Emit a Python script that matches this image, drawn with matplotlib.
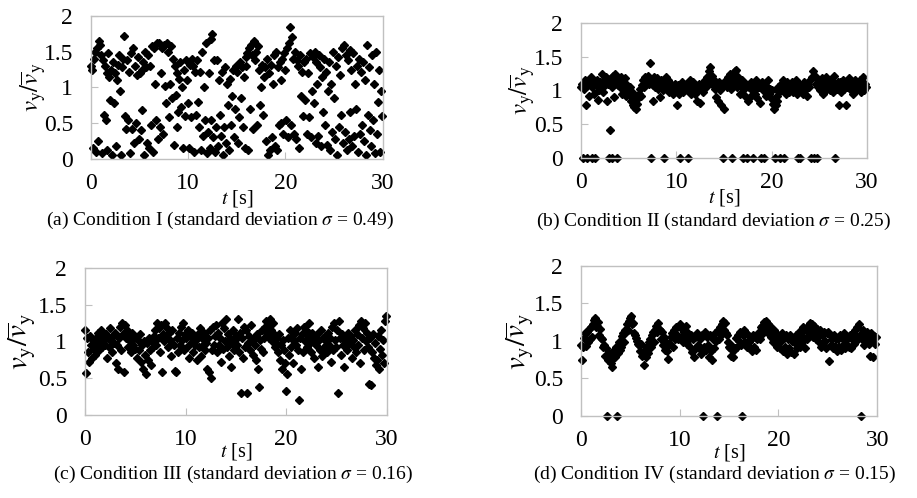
import numpy as np
import matplotlib
matplotlib.use("Agg")
import matplotlib.pyplot as plt

plt.rcParams["font.family"] = ["Liberation Serif", "DejaVu Serif"]
plt.rcParams["mathtext.fontset"] = "stix"

# sampling interval of the recorded series [s]
DT = 0.1

# (a) Condition I
vel_a = [
    1.30, 1.25, 0.15, 1.40, 1.50, 0.10, 1.55, 0.25, 1.65, 1.60,
    1.45, 0.08, 1.38, 0.62, 1.30, 0.55, 1.20, 0.12, 1.48, 1.15,
    0.82, 1.25, 0.05, 1.35, 0.78, 1.20, 0.18, 1.10, 1.32, 1.45,
    0.95, 0.05, 1.28, 1.40, 1.72, 0.60, 0.42, 1.38, 0.55, 1.22,
    0.08, 1.48, 0.42, 1.55, 0.22, 1.30, 0.50, 1.18, 1.42, 0.28,
    1.20, 0.40, 1.25, 0.68, 1.35, 0.05, 1.50, 1.28, 0.22, 1.45,
    0.15, 1.30, 0.48, 1.58, 0.10, 1.55, 1.05, 0.55, 1.62, 0.28,
    1.62, 0.45, 1.20, 1.55, 0.35, 1.60, 1.02, 0.78, 1.62, 1.50,
    0.58, 1.05, 1.58, 0.85, 1.40, 0.20, 1.30, 0.90, 0.45, 1.20,
    0.65, 1.12, 1.35, 0.72, 1.00, 0.15, 1.25, 0.60, 1.38, 1.10,
    0.78, 0.15, 1.32, 0.58, 1.40, 1.30, 0.10, 1.22, 0.62, 1.38,
    0.80, 0.45, 1.22, 0.12, 1.50, 0.32, 1.00, 0.55, 1.62, 0.08,
    0.38, 1.20, 0.15, 1.68, 0.55, 1.75, 0.30, 1.38, 0.10, 0.45,
    1.38, 0.18, 1.10, 0.62, 0.32, 1.22, 0.05, 0.45, 1.28, 0.22,
    1.05, 0.75, 0.12, 1.12, 0.48, 0.88, 1.25, 0.30, 0.70, 1.30,
    1.22, 0.22, 0.58, 1.35, 0.85, 1.28, 0.45, 1.15, 0.15, 1.42,
    1.30, 1.48, 0.12, 1.55, 0.70, 1.60, 1.45, 0.42, 1.65, 1.38,
    1.50, 0.48, 1.58, 1.25, 0.75, 1.00, 1.32, 0.62, 1.15, 1.28,
    0.25, 1.40, 0.05, 1.20, 0.12, 1.32, 0.30, 1.05, 1.45, 0.18,
    1.50, 0.12, 1.28, 0.48, 1.35, 1.10, 0.50, 1.40, 0.35, 1.48,
    1.25, 0.55, 1.55, 0.30, 1.62, 1.85, 0.48, 1.70, 1.40, 0.35,
    1.50, 0.28, 1.38, 1.30, 0.15, 1.45, 0.88, 1.22, 0.60, 1.35,
    0.82, 1.40, 0.35, 1.20, 0.58, 1.48, 0.30, 0.95, 1.42, 0.78,
    1.50, 0.22, 1.35, 1.05, 0.32, 1.45, 1.28, 0.18, 1.15, 0.65,
    1.40, 0.48, 1.22, 0.20, 0.95, 1.35, 0.12, 1.05, 0.38, 1.50,
    0.85, 0.28, 1.30, 0.05, 1.42, 0.45, 1.18, 0.62, 1.55, 0.22,
    1.60, 0.38, 1.45, 0.12, 1.38, 0.28, 1.52, 0.65, 1.25, 0.18,
    1.48, 0.32, 1.05, 0.70, 1.30, 0.10, 1.40, 0.35, 1.22, 0.48,
    1.35, 0.25, 1.10, 0.05, 1.60, 0.62, 1.28, 0.40, 0.18, 1.45,
    0.55, 1.05, 0.08, 1.50, 0.35, 0.80, 1.25, 0.10, 0.95, 0.60,
]

# (b) Condition II
vel_b = [
    1.05, 1.10, 0.00, 1.02, 1.15, 0.78, 0.00, 1.08, 0.92, 1.12,
    1.20, 0.00, 1.05, 1.10, 0.95, 0.00, 1.08, 1.15, 0.86, 1.00,
    1.12, 1.05, 1.25, 0.98, 1.15, 1.08, 1.20, 0.85, 1.10, 0.00,
    0.42, 1.18, 0.00, 1.05, 1.22, 0.90, 1.25, 1.12, 0.00, 1.08,
    1.15, 1.05, 1.20, 0.95, 1.10, 1.02, 1.18, 0.92, 1.08, 1.00,
    0.95, 1.05, 0.85, 0.98, 0.78, 0.90, 0.75, 0.85, 0.72, 0.80,
    0.88, 0.95, 1.02, 0.92, 1.08, 1.15, 1.05, 1.20, 1.12, 1.18,
    1.22, 1.10, 1.40, 0.00, 1.15, 1.08, 0.85, 1.20, 1.05, 1.12,
    1.18, 1.02, 1.10, 0.90, 1.15, 1.08, 1.00, 0.00, 1.12, 1.20,
    1.05, 1.15, 0.98, 1.10, 1.02, 1.08, 0.95, 1.05, 1.00, 1.10,
    1.02, 0.78, 1.08, 0.95, 0.00, 1.05, 1.12, 0.98, 1.06, 1.00,
    1.10, 1.02, 0.00, 1.08, 1.15, 0.95, 1.05, 1.12, 1.00, 1.08,
    0.95, 1.05, 0.85, 1.00, 1.10, 0.82, 1.02, 1.08, 0.98, 1.12,
    1.15, 1.05, 1.20, 1.10, 1.28, 1.35, 1.18, 1.22, 1.08, 1.15,
    1.10, 1.02, 0.90, 1.08, 0.85, 1.12, 1.00, 0.78, 1.05, 0.00,
    0.72, 1.08, 1.15, 1.05, 1.20, 1.12, 1.25, 1.02, 0.00, 1.18,
    1.10, 1.28, 1.15, 1.30, 1.05, 1.20, 1.12, 0.95, 1.08, 1.15,
    0.00, 1.02, 0.92, 1.10, 0.00, 0.85, 1.05, 0.90, 1.12, 1.00,
    0.00, 1.08, 0.95, 1.15, 1.02, 0.88, 1.10, 1.05, 0.82, 0.00,
    1.12, 1.00, 0.00, 1.08, 0.92, 1.05, 1.15, 0.95, 1.02, 0.88,
    1.00, 0.80, 0.72, 0.00, 0.78, 0.85, 0.92, 1.05, 0.98, 0.00,
    1.10, 1.02, 1.15, 0.00, 1.08, 0.95, 1.12, 1.05, 0.98, 1.10,
    1.05, 1.12, 0.98, 1.08, 1.02, 1.15, 0.95, 1.05, 0.00, 1.10,
    0.00, 1.02, 1.08, 0.95, 1.12, 1.00, 1.05, 0.92, 1.10, 1.05,
    1.15, 0.00, 1.20, 1.28, 0.00, 1.22, 1.10, 0.00, 1.15, 1.05,
    1.12, 1.00, 1.08, 1.18, 0.95, 1.10, 1.05, 1.20, 1.02, 1.12,
    1.08, 1.00, 1.15, 1.05, 0.98, 1.22, 0.00, 1.10, 1.02, 1.12,
    0.78, 1.05, 1.12, 0.98, 1.08, 1.15, 1.02, 1.10, 0.78, 1.05,
    1.10, 1.18, 1.02, 1.12, 1.05, 0.95, 1.08, 1.15, 1.00, 1.10,
    1.02, 1.12, 1.05, 1.15, 0.98, 1.08, 1.20, 1.00, 1.10, 1.05,
]

# (c) Condition III
vel_c = [
    1.15, 0.57, 1.05, 0.85, 0.72, 1.08, 0.95, 0.78, 1.02, 0.90,
    0.82, 1.05, 0.95, 1.12, 0.88, 1.00, 1.15, 0.92, 1.08, 1.02,
    0.95, 1.10, 0.78, 1.05, 0.92, 1.18, 1.00, 0.85, 1.08, 0.98,
    1.12, 0.70, 0.95, 0.62, 1.05, 1.20, 0.88, 1.25, 1.10, 0.58,
    1.22, 1.05, 1.15, 0.92, 1.08, 1.00, 0.85, 1.12, 0.95, 1.05,
    0.90, 1.05, 0.78, 1.02, 0.88, 1.10, 0.72, 0.95, 0.62, 1.00,
    0.82, 0.55, 0.98, 0.75, 1.05, 0.88, 0.68, 1.00, 0.92, 1.08,
    1.15, 0.95, 1.25, 1.05, 1.18, 0.85, 1.22, 0.58, 1.10, 1.00,
    1.25, 1.08, 1.18, 0.92, 1.12, 1.02, 0.80, 1.15, 0.95, 0.60,
    0.58, 1.05, 0.85, 1.12, 0.95, 1.20, 1.02, 1.25, 0.88, 1.10,
    1.05, 0.92, 1.15, 0.78, 1.08, 0.98, 1.12, 0.85, 1.05, 0.95,
    1.02, 0.75, 1.10, 0.92, 1.18, 0.80, 1.05, 0.95, 1.12, 0.88,
    0.98, 0.62, 1.05, 0.58, 1.15, 0.50, 0.88, 1.20, 0.95, 1.08,
    1.22, 0.85, 1.12, 0.95, 1.05, 0.72, 1.25, 0.90, 1.18, 1.00,
    1.30, 0.92, 1.10, 0.80, 1.05, 0.65, 0.98, 1.15, 0.88, 1.02,
    1.08, 0.95, 1.30, 0.85, 1.12, 0.30, 1.05, 0.78, 1.20, 0.92,
    1.15, 0.30, 0.98, 1.08, 0.88, 1.22, 1.00, 0.82, 1.05, 0.95,
    0.75, 1.10, 0.62, 0.38, 1.02, 0.90, 1.15, 0.85, 1.05, 1.20,
    1.28, 1.12, 1.22, 1.05, 1.30, 1.15, 1.00, 1.25, 1.10, 0.92,
    0.98, 1.05, 0.85, 1.10, 0.75, 0.95, 0.62, 1.02, 0.88, 0.70,
    0.33, 0.55, 1.05, 0.82, 1.15, 0.92, 1.08, 0.70, 1.00, 1.12,
    0.95, 1.18, 0.88, 0.20, 1.05, 0.62, 1.10, 0.85, 1.20, 1.00,
    1.15, 0.92, 1.08, 1.25, 0.98, 0.85, 1.12, 1.02, 0.78, 1.05,
    0.95, 1.10, 0.65, 1.02, 0.88, 1.15, 0.80, 1.05, 0.92, 1.08,
    1.00, 0.85, 1.12, 0.95, 1.05, 0.72, 1.20, 0.88, 1.25, 1.02,
    0.92, 1.15, 0.30, 1.28, 1.05, 0.82, 1.10, 0.95, 0.65, 1.00,
    1.05, 0.88, 1.12, 0.98, 1.08, 0.78, 1.02, 0.92, 1.15, 0.85,
    1.10, 0.95, 1.22, 0.70, 1.28, 1.05, 1.18, 0.88, 1.25, 1.00,
    1.12, 0.92, 0.42, 1.05, 0.40, 0.85, 1.10, 0.78, 0.98, 0.68,
    0.75, 1.08, 0.62, 0.90, 1.15, 0.82, 1.02, 0.70, 1.28, 1.35,
]

# (d) Condition IV
vel_d = [
    0.95, 0.75, 0.92, 1.04, 1.10, 0.93, 1.12, 0.98, 1.16, 1.02,
    1.18, 1.05, 1.22, 1.28, 1.30, 1.18, 1.20, 1.25, 1.08, 1.16,
    1.04, 1.02, 0.92, 0.95, 0.80, 0.90, 0.00, 0.74, 0.84, 0.73,
    0.70, 0.65, 0.80, 0.88, 0.78, 0.92, 0.00, 0.84, 0.98, 0.88,
    1.00, 0.92, 1.06, 1.10, 0.98, 1.15, 1.12, 1.22, 1.15, 1.26,
    1.30, 1.33, 1.22, 1.24, 1.10, 1.08, 1.04, 1.00, 0.96, 0.94,
    0.86, 0.96, 0.80, 0.82, 0.68, 0.88, 0.78, 0.92, 0.84, 0.98,
    1.02, 0.92, 1.08, 1.12, 0.98, 1.15, 1.20, 1.12, 1.24, 1.16,
    1.14, 1.02, 1.12, 0.95, 1.05, 0.88, 0.98, 0.86, 0.76, 0.96,
    0.96, 1.05, 1.10, 0.92, 1.15, 1.02, 1.18, 1.08, 1.02, 1.20,
    1.22, 1.05, 1.16, 0.98, 1.12, 1.02, 1.20, 0.96, 1.10, 1.02,
    0.92, 1.08, 0.85, 1.02, 0.78, 1.05, 0.90, 1.10, 0.95, 1.06,
    0.90, 1.02, 0.82, 1.08, 0.00, 0.92, 1.12, 0.88, 1.05, 0.95,
    0.78, 1.08, 0.86, 0.74, 1.02, 0.90, 1.10, 1.00, 0.00, 1.14,
    1.02, 1.18, 1.08, 1.22, 1.26, 1.15, 1.24, 1.10, 1.08, 0.98,
    0.92, 0.90, 0.80, 0.93, 0.78, 0.88, 0.90, 1.04, 0.92, 1.08,
    1.00, 1.12, 0.95, 0.00, 1.08, 1.14, 0.98, 1.10, 0.92, 1.08,
    0.98, 0.90, 1.02, 0.86, 1.08, 0.92, 1.05, 0.88, 1.03, 1.10,
    1.08, 1.02, 1.18, 1.20, 1.10, 1.25, 1.15, 1.26, 1.12, 1.22,
    1.10, 1.20, 1.05, 1.12, 0.98, 1.15, 1.02, 0.96, 1.10, 0.92,
    1.02, 1.06, 0.90, 1.00, 1.10, 0.86, 1.04, 0.92, 1.08, 0.82,
    1.03, 0.90, 1.08, 0.85, 1.00, 1.04, 0.82, 0.97, 1.08, 0.90,
    1.04, 1.12, 0.92, 1.10, 0.98, 1.18, 1.02, 0.90, 1.15, 1.02,
    1.20, 1.08, 1.24, 1.12, 1.22, 1.05, 1.20, 1.10, 1.02, 1.16,
    1.06, 0.98, 1.14, 0.92, 1.08, 0.95, 1.12, 1.00, 0.90, 1.10,
    1.12, 0.73, 1.08, 0.95, 1.02, 0.90, 1.08, 0.93, 1.04, 0.86,
    1.02, 0.92, 1.08, 0.88, 1.04, 0.95, 1.10, 0.90, 1.02, 0.94,
    1.04, 0.92, 1.08, 0.90, 1.02, 1.10, 0.96, 1.08, 1.14, 1.00,
    1.18, 1.05, 1.22, 1.08, 0.00, 1.02, 1.14, 0.95, 1.10, 1.00,
    1.12, 1.02, 0.96, 0.80, 1.10, 1.00, 0.78, 1.06, 0.96, 1.05,
]

captions = [
    r"(a) Condition I (standard deviation $\sigma$ = 0.49)",
    r"(b) Condition II (standard deviation $\sigma$ = 0.25)",
    r"(c) Condition III (standard deviation $\sigma$ = 0.16)",
    r"(d) Condition IV (standard deviation $\sigma$ = 0.15)",
]
series = [vel_a, vel_b, vel_c, vel_d]

# axes boxes [left, bottom, width, height] in figure fractions
boxes = [
    [0.0992, 0.681, 0.318, 0.287],
    [0.6336, 0.683, 0.312, 0.271],
    [0.0927, 0.167, 0.329, 0.295],
    [0.6336, 0.165, 0.323, 0.301],
]
caption_y = [0.557, 0.556, 0.048, 0.048]
caption_x = [0.240, 0.778, 0.254, 0.779]
xlabel_pad = [-4, -4, -6, -6]
ylabel_right = [48, 537, 37, 535]   # px from left
ylabel_size = [18, 18, 21, 21]

W, H = 9.17, 4.98
fig = plt.figure(figsize=(W, H), dpi=100)
grey = "#c0c0c0"

for i, vel in enumerate(series):
    box = boxes[i]
    ax = fig.add_axes(box)
    t = np.arange(len(vel)) * DT
    ax.plot(t, vel, linestyle="none", marker="D", markersize=4.0,
            color="black", clip_on=False)
    ax.set_xlim(0, 30)
    ax.set_ylim(0, 2)
    ax.set_xticks([0, 10, 20, 30])
    ax.set_yticks([0, 0.5, 1, 1.5, 2])
    ax.set_yticklabels(["0", "0.5", "1", "1.5", "2"])
    for s in ax.spines.values():
        s.set_color(grey)
        s.set_linewidth(1.0)
    ax.tick_params(direction="in", length=5, color=grey, labelsize=17)
    ax.tick_params(axis="x", pad=10)
    ax.tick_params(axis="y", pad=13)
    ax.set_xlabel(r"$t$ [s]", fontsize=14.5, labelpad=xlabel_pad[i])
    ax.set_ylabel(r"$v_{\rm y}/\overline{v}_{\rm y}$", fontsize=ylabel_size[i])
    xr = (ylabel_right[i] / 100.0 - box[0] * W) / (box[2] * W)
    ax.yaxis.set_label_coords(xr, 0.5)
    fig.text(caption_x[i], caption_y[i], captions[i], ha="center",
             va="center", fontsize=14)

fig.savefig("out.png", dpi=100)
